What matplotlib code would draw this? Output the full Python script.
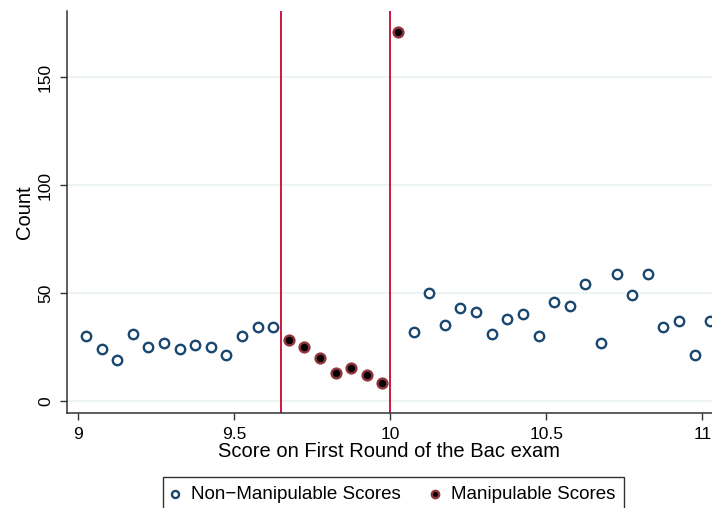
import numpy as np
import matplotlib.pyplot as plt

plt.rcParams['font.family'] = ['Liberation Sans', 'DejaVu Sans']

# Bin midpoints and counts
non_manip_x = [9.025, 9.075, 9.125, 9.175, 9.225, 9.275, 9.325, 9.375, 9.425,
               9.475, 9.525, 9.575, 9.625,
               10.075, 10.125, 10.175, 10.225, 10.275, 10.325, 10.375, 10.425,
               10.475, 10.525, 10.575, 10.625, 10.675, 10.725, 10.775, 10.825,
               10.875, 10.925, 10.975, 11.025]
non_manip_y = [30, 24, 19, 31, 25, 27, 24, 26, 25,
               21, 30, 34, 34,
               32, 50, 35, 43, 41, 31, 38, 40,
               30, 46, 44, 54, 27, 59, 49, 59,
               34, 37, 21, 37]

manip_x = [9.675, 9.725, 9.775, 9.825, 9.875, 9.925, 9.975, 10.025]
manip_y = [28, 25, 20, 13, 15, 12, 8, 171]

cutoffs = [9.65, 10.0]

fig = plt.figure(figsize=(7.12, 5.08), dpi=100)
ax = fig.add_axes([0.0941, 0.187, 0.9059, 0.791])

ax.set_xlim(8.964, 11.031)
ax.set_ylim(-5.7, 180.7)

for c in cutoffs:
    ax.axvline(c, color='#c8193f', lw=1.4, zorder=2)

ax.scatter(non_manip_x, non_manip_y, s=46, facecolor='white', edgecolor='#1a476f',
           linewidth=1.7, zorder=3, label='Non\u2212Manipulable Scores')
ax.scatter(manip_x, manip_y, s=50, facecolor='black', edgecolor='#90353b',
           linewidth=1.7, zorder=3, label='Manipulable Scores')

ax.set_yticks([0, 50, 100, 150])
ax.set_xticks([9, 9.5, 10, 10.5, 11])
ax.set_xticklabels(['9', '9.5', '10', '10.5', '11'])
ax.grid(axis='y', color='#eaf2f3', lw=1.2, zorder=0)
ax.set_axisbelow(True)

for lab in ax.get_yticklabels():
    lab.set_rotation(90)
    lab.set_va('center')
ax.tick_params(axis='both', labelsize=12.5, length=5, width=1, color='#333333', direction='out')
ax.tick_params(axis='y', pad=5)
ax.tick_params(axis='x', pad=5)

for s in ['top', 'right']:
    ax.spines[s].set_visible(False)
for s in ['left', 'bottom']:
    ax.spines[s].set_color('#333333')
    ax.spines[s].set_linewidth(1.1)

ax.set_xlabel('Score on First Round of the Bac exam', fontsize=14.5, labelpad=0)
ax.set_ylabel('Count', fontsize=14.5, labelpad=3)

leg = fig.legend(loc='upper center', bbox_to_anchor=(393.5 / 712, 1 - 477 / 508),
                 borderaxespad=0, ncol=2, fontsize=13.5, frameon=True, fancybox=False,
                 edgecolor='black', borderpad=0.45, handletextpad=0.66,
                 columnspacing=1.6, handlelength=0.4, markerscale=0.75)
leg.get_frame().set_linewidth(1.0)

fig.savefig('out.png', dpi=100)
